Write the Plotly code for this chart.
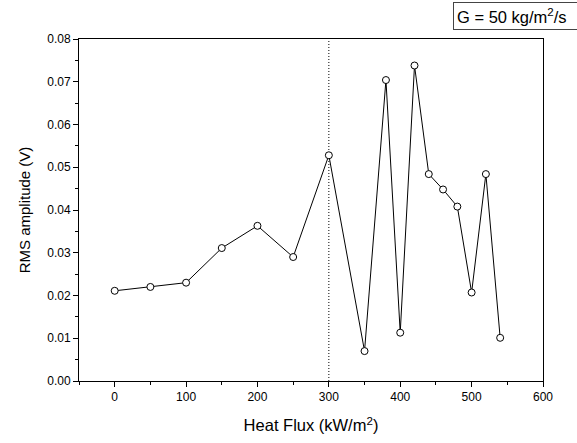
import plotly.graph_objects as go

heat_flux = [0, 50, 100, 150, 200, 250, 300, 350, 380, 400, 420, 440, 460, 480, 500, 520, 540]
rms_amp = [0.0211, 0.0220, 0.0230, 0.0311, 0.0363, 0.0290, 0.0528, 0.0070, 0.0704, 0.0113,
           0.0738, 0.0484, 0.0448, 0.0408, 0.0207, 0.0484, 0.0101]
divider_x = 300

FONT = "Liberation Sans, Arial"

fig = go.Figure()
fig.add_trace(go.Scatter(
    x=heat_flux, y=rms_amp, mode="lines+markers",
    line=dict(color="black", width=1),
    marker=dict(symbol="circle", size=7, color="white", line=dict(width=1, color="black")),
    showlegend=False,
))
fig.add_shape(type="line", xref="x", yref="paper", x0=divider_x, x1=divider_x, y0=0, y1=1,
              line=dict(color="black", width=1, dash="1px,2px"), layer="below")

axis_common = dict(showgrid=False, zeroline=False, showline=True, linecolor="black", linewidth=1,
                   mirror=True, ticks="outside", tickcolor="black", ticklen=5,
                   tickfont=dict(family=FONT, size=12, color="black"))
fig.update_xaxes(range=[-50, 600], dtick=100, tick0=0,
                 minor=dict(ticks="outside", dtick=50, tick0=0, ticklen=3, tickcolor="black"),
                 title=dict(text="Heat Flux (kW/m<sup>2</sup>)", font=dict(family=FONT, size=16.5, color="black"), standoff=16),
                 **axis_common)
fig.update_yaxes(range=[0, 0.08], dtick=0.01, tickformat=".2f",
                 minor=dict(ticks="outside", dtick=0.005, ticklen=3, tickcolor="black"),
                 title=dict(text="RMS amplitude (V)", font=dict(family=FONT, size=15, color="black"), standoff=12),
                 **axis_common)

fig.add_annotation(text="G = 50 kg/m<sup>2</sup>/s", xref="paper", yref="paper",
                   x=0.806, y=1.027, xanchor="left", yanchor="bottom", showarrow=False,
                   width=150, align="left",
                   font=dict(family=FONT, size=16.5, color="black"),
                   bordercolor="#444", borderwidth=1, borderpad=3, bgcolor="white")

fig.update_layout(width=577, height=443, margin=dict(l=79, r=34, t=39, b=62),
                  plot_bgcolor="white", paper_bgcolor="white")
fig.write_html("out.html")
